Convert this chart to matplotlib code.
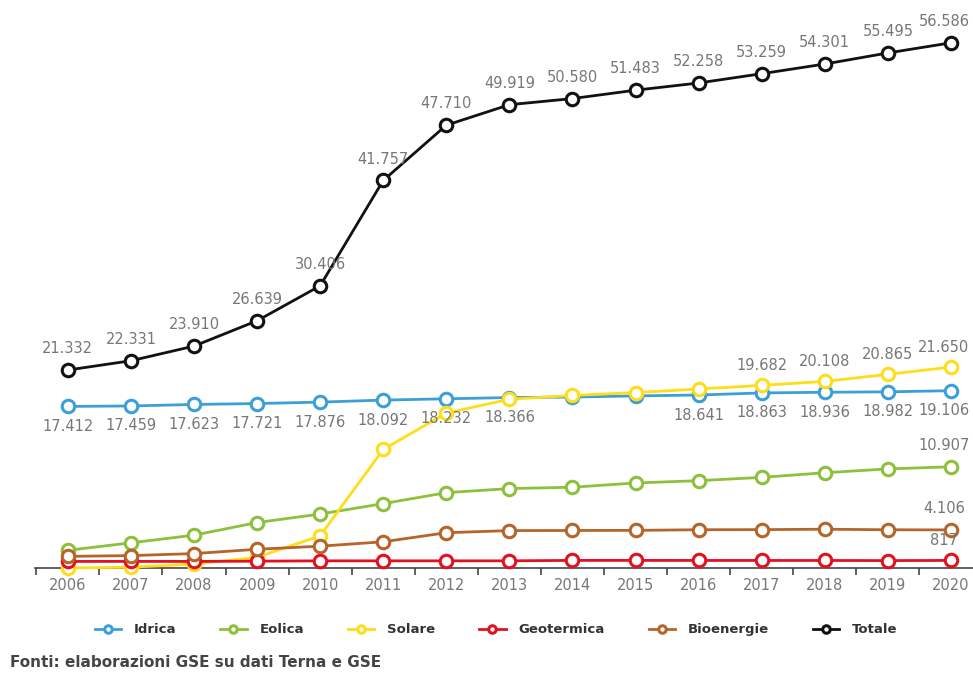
import matplotlib.pyplot as plt
from matplotlib.ticker import FixedLocator, NullFormatter
import numpy as np

years = list(range(2006, 2021))

idrica = [17412, 17459, 17623, 17721, 17876, 18092, 18232, 18366, 18418, 18543, 18641, 18863, 18936, 18982, 19106]
eolica = [1908, 2714, 3538, 4898, 5814, 6936, 8119, 8561, 8703, 9162, 9410, 9766, 10265, 10679, 10907]
solare = [7, 87, 432, 1144, 3470, 12773, 16690, 18185, 18594, 18901, 19283, 19682, 20108, 20865, 21650]
geotermica = [711, 711, 711, 737, 772, 772, 772, 773, 821, 821, 815, 813, 813, 800, 817]
bioenergie = [1256, 1336, 1555, 2019, 2352, 2825, 3802, 4033, 4044, 4057, 4124, 4135, 4180, 4120, 4106]
totale = [21332, 22331, 23910, 26639, 30406, 41757, 47710, 49919, 50580, 51483, 52258, 53259, 54301, 55495, 56586]

names = ["Idrica", "Eolica", "Solare", "Geotermica", "Bioenergie", "Totale"]
colors = ["#3d9fd8", "#8dc03c", "#fedd1a", "#e3101f", "#b5642a", "#111111"]
label_grey = "#777777"


def fmt(v):
    return f"{v:,}".replace(",", ".")


def label(x, v, dy, va):
    # le etichette del 2020 spostate un poco a sinistra per restare nel riquadro
    dx = -5 if x == years[-1] else 0
    ax.annotate(fmt(v), (x, v), xytext=(dx, dy), textcoords="offset points",
                ha="center", va=va, fontsize=10.5, color=label_grey)


fig = plt.figure(figsize=(9.73, 6.73), dpi=100)
ax = fig.add_axes([0.036, 0.156, 0.964, 0.844])

series = [idrica, eolica, solare, geotermica, bioenergie, totale]
for vals, name, col in zip(series, names, colors):
    ax.plot(years, vals, color=col, linewidth=2, marker="o", markersize=9,
            markerfacecolor="white", markeredgewidth=2.2, markeredgecolor=col,
            label=name, clip_on=False, zorder=3)

# etichette dei valori
for x, v in zip(years, totale):
    label(x, v, 10, "bottom")
for x, v in zip(years, idrica):
    if x in (2014, 2015):
        continue
    label(x, v, -9, "top")
for x, v in zip(years[-4:], solare[-4:]):
    label(x, v, 9, "bottom")
label(years[-1], eolica[-1], 10, "bottom")
label(years[-1], bioenergie[-1], 10, "bottom")
label(years[-1], geotermica[-1], 9, "bottom")

ax.set_xlim(2005.48, 2020.35)
ax.set_ylim(0, 61200)
for s in ["top", "right", "left"]:
    ax.spines[s].set_visible(False)
ax.spines["bottom"].set_color("#444444")
ax.spines["bottom"].set_linewidth(1.2)
ax.set_yticks([])

ax.set_xticks(years)
ax.set_xticklabels([str(y) for y in years], fontsize=10.5, color=label_grey)
ax.tick_params(axis="x", which="major", length=0, pad=7)
ax.xaxis.set_minor_locator(FixedLocator(np.arange(2005.5, 2020.6, 1)))
ax.xaxis.set_minor_formatter(NullFormatter())
ax.tick_params(axis="x", which="minor", length=5, width=1.2, color="#444444")

leg = fig.legend(loc="center", bbox_to_anchor=(0.51, 0.064), ncol=6, frameon=False,
                 fontsize=9.5, markerscale=0.6, handlelength=2.0, columnspacing=3.3,
                 handletextpad=1.0)
for t in leg.get_texts():
    t.set_color("#333333")
    t.set_fontweight("bold")

fig.text(0.01, 0.004, "Fonti: elaborazioni GSE su dati Terna e GSE", fontsize=11,
         color="#444444", fontweight="bold", ha="left", va="bottom")

fig.savefig("out.png", dpi=100)
